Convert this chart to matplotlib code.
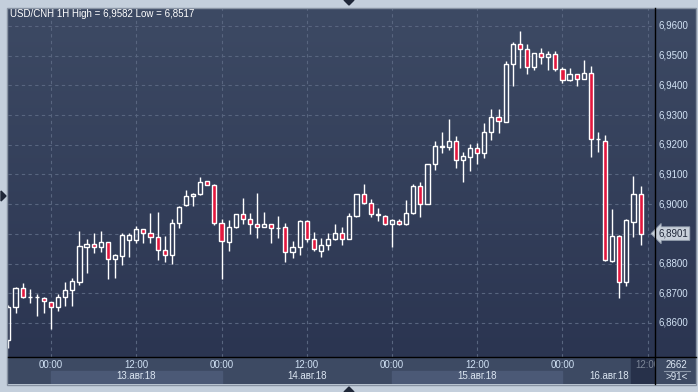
import numpy as np
import matplotlib
matplotlib.use("Agg")
import matplotlib.pyplot as plt
from matplotlib.colors import LinearSegmentedColormap
from matplotlib.patches import Polygon, Rectangle

plt.rcParams['font.family'] = ['Liberation Sans', 'DejaVu Sans']

# ---------------- data ----------------
title = "USD/CNH 1H High = 6,9582 Low = 6,8517"
# hours relative to 13.08.18 00:00
hours = list(range(-6, 84))
opens = [6.8543, 6.8655, 6.8717, 6.8687, 6.8687, 6.8683, 6.8670, 6.8655, 6.8687, 6.8711,
         6.8739, 6.8857, 6.8866, 6.8857, 6.8872, 6.8817, 6.8827, 6.8878, 6.8878, 6.8916,
         6.8902, 6.8889, 6.8845, 6.8828, 6.8938, 6.8996, 6.9028, 6.9033, 6.9078, 6.9065,
         6.8936, 6.8872, 6.8922, 6.8966, 6.8949, 6.8932, 6.8924, 6.8933, 6.8921, 6.8922,
         6.8839, 6.8855, 6.8943, 6.8882, 6.8843, 6.8862, 6.8882, 6.8902, 6.8884, 6.8959,
         6.9033, 6.9003, 6.8966, 6.8961, 6.8932, 6.8945, 6.8932, 6.8969, 6.9061, 6.9000,
         6.9135, 6.9196, 6.9193, 6.9212, 6.9149, 6.9159, 6.9188, 6.9171, 6.9242, 6.9295,
         6.9278, 6.9471, 6.9538, 6.9522, 6.9463, 6.9508, 6.9495, 6.9505, 6.9456, 6.9418,
         6.9437, 6.9421, 6.9441, 6.9219, 6.9214, 6.8810, 6.8894, 6.8739, 6.8941, 6.9034]
highs = [6.8660, 6.8722, 6.8734, 6.8713, 6.8698, 6.8689, 6.8671, 6.8697, 6.8739, 6.8753,
         6.8910, 6.8882, 6.8904, 6.8910, 6.8873, 6.8832, 6.8904, 6.8904, 6.8927, 6.8918,
         6.8969, 6.8974, 6.8893, 6.8949, 6.8993, 6.9048, 6.9039, 6.9093, 6.9079, 6.9068,
         6.8949, 6.8947, 6.8968, 6.9021, 6.8971, 6.9039, 6.8974, 6.8935, 6.8960, 6.8936,
         6.8875, 6.8947, 6.8947, 6.8906, 6.8886, 6.8904, 6.8933, 6.8922, 6.8971, 6.9035,
         6.9068, 6.9019, 6.8987, 6.8962, 6.8949, 6.8949, 6.9014, 6.9068, 6.9076, 6.9136,
         6.9213, 6.9243, 6.9287, 6.9230, 6.9176, 6.9203, 6.9205, 6.9272, 6.9321, 6.9321,
         6.9481, 6.9546, 6.9582, 6.9539, 6.9510, 6.9525, 6.9516, 6.9516, 6.9463, 6.9458,
         6.9438, 6.9486, 6.9465, 6.9242, 6.9233, 6.8983, 6.8895, 6.8950, 6.9095, 6.9061]
lows = [6.8517, 6.8633, 6.8685, 6.8668, 6.8624, 6.8635, 6.8581, 6.8641, 6.8657, 6.8657,
        6.8728, 6.8769, 6.8837, 6.8840, 6.8748, 6.8753, 6.8796, 6.8823, 6.8870, 6.8870,
        6.8870, 6.8811, 6.8805, 6.8800, 6.8921, 6.8994, 6.8994, 6.9031, 6.9064, 6.8930,
        6.8747, 6.8843, 6.8920, 6.8933, 6.8900, 6.8885, 6.8922, 6.8870, 6.8887, 6.8806,
        6.8818, 6.8829, 6.8874, 6.8842, 6.8823, 6.8846, 6.8880, 6.8862, 6.8882, 6.8958,
        6.9001, 6.8958, 6.8944, 6.8929, 6.8857, 6.8929, 6.8930, 6.8968, 6.8958, 6.8999,
        6.9115, 6.9171, 6.9182, 6.9123, 6.9076, 6.9113, 6.9136, 6.9157, 6.9216, 6.9241,
        6.9277, 6.9399, 6.9460, 6.9438, 6.9452, 6.9472, 6.9452, 6.9450, 6.9409, 6.9416,
        6.9399, 6.9420, 6.9160, 6.9177, 6.8810, 6.8806, 6.8685, 6.8726, 6.8891, 6.8863]
closes = [6.8655, 6.8717, 6.8687, 6.8688, 6.8686, 6.8673, 6.8655, 6.8687, 6.8711, 6.8741,
          6.8859, 6.8866, 6.8857, 6.8872, 6.8817, 6.8828, 6.8896, 6.8895, 6.8916, 6.8902,
          6.8889, 6.8845, 6.8828, 6.8936, 6.8992, 6.9028, 6.9033, 6.9076, 6.9065, 6.8936,
          6.8875, 6.8922, 6.8966, 6.8949, 6.8932, 6.8922, 6.8933, 6.8919, 6.8920, 6.8839,
          6.8855, 6.8943, 6.8882, 6.8848, 6.8862, 6.8882, 6.8902, 6.8882, 6.8959, 6.9033,
          6.9003, 6.8966, 6.8965, 6.8932, 6.8947, 6.8932, 6.8969, 6.9062, 6.9000, 6.9135,
          6.9196, 6.9193, 6.9213, 6.9149, 6.9162, 6.9188, 6.9171, 6.9242, 6.9295, 6.9280,
          6.9471, 6.9538, 6.9522, 6.9463, 6.9508, 6.9495, 6.9505, 6.9456, 6.9418, 6.9437,
          6.9421, 6.9441, 6.9219, 6.9218, 6.8812, 6.8894, 6.8739, 6.8947, 6.9034, 6.8901]
last_price = 6.8901

price_ticks = [6.86, 6.87, 6.88, 6.89, 6.90, 6.91, 6.92, 6.93, 6.94, 6.95, 6.96]
time_tick_hours = [0, 12, 24, 36, 48, 60, 72, 84]
time_tick_labels = ["00:00", "12:00", "00:00", "12:00", "00:00", "12:00", "00:00", "12:00"]
date_labels = ["13.авг.18", "14.авг.18", "15.авг.18", "16.авг.18"]
date_start_hours = [0, 24, 48, 72]
bar_count_text = "2662"
zoom_text = ">91<"

# ---------------- layout helpers ----------------
W, H = 698, 392
def fx(px): return px / W
def fy(py): return 1 - py / H

fig = plt.figure(figsize=(W / 100, H / 100), dpi=100, facecolor='#c4cfdc')

XMIN, XMAX = -6.06, 85.03
YMIN, YMAX = 6.84855, 6.96606

top_col, bot_col = '#3d4a64', '#2b3551'
grad = LinearSegmentedColormap.from_list('g', [bot_col, top_col])

# main plot
ax = fig.add_axes([fx(8), fy(357), fx(655) - fx(8), fy(8) - fy(357)])
ax.set_xlim(XMIN, XMAX)
ax.set_ylim(YMIN, YMAX)
ax.imshow(np.linspace(0, 1, 256).reshape(-1, 1)[::-1], cmap=grad, aspect='auto',
          extent=[XMIN, XMAX, YMIN, YMAX], zorder=0)
for s in ax.spines.values():
    s.set_visible(False)
ax.set_xticks([]); ax.set_yticks([])

grid_col = '#58657f'
for p in price_ticks:
    ax.axhline(p, color=grid_col, lw=0.8, ls=(0, (3, 3)), zorder=1)
for h in time_tick_hours:
    ax.axvline(h, color=grid_col, lw=0.8, ls=(0, (3, 3)), zorder=1)

red = '#e3173e'
bw = 0.58
for h, o, hi, lo, c in zip(hours, opens, highs, lows, closes):
    top, bot = max(o, c), min(o, c)
    ax.vlines(h, top, hi, color='white', lw=1.0, zorder=2)
    ax.vlines(h, lo, bot, color='white', lw=1.0, zorder=2)
    up = c >= o
    ax.bar(h, max(top - bot, 0.00001), bottom=bot, width=bw,
           facecolor='none' if up else red, edgecolor='white', linewidth=1.0, zorder=3)

# right price panel
axr = fig.add_axes([fx(655), fy(357), fx(696) - fx(655), fy(8) - fy(357)])
axr.set_xlim(0, 1); axr.set_ylim(YMIN, YMAX)
axr.imshow(np.linspace(0, 1, 256).reshape(-1, 1)[::-1], cmap=grad, aspect='auto',
           extent=[0, 1, YMIN, YMAX], zorder=0)
axr.set_xticks([]); axr.set_yticks([])
for s in axr.spines.values():
    s.set_visible(False)
for p in price_ticks:
    if abs(p - last_price) < 0.004:
        continue
    axr.text(0.08, p, f"{p:.4f}".replace('.', ','), color='#d2e2f4', fontsize=7,
             va='center', ha='left', zorder=2)
axr.text(0.08, last_price, f"{last_price:.4f}".replace('.', ','), color='#1e2638', fontsize=7,
         va='center', ha='left', zorder=5,
         bbox=dict(boxstyle='larrow,pad=0.18', fc='#c8d0da', ec='#9aa5b4', lw=0.6))

# bottom time strip
strip_col = '#3d4a63'
axb = fig.add_axes([fx(8), fy(384), fx(655) - fx(8), fy(357) - fy(384)])
axb.set_xlim(XMIN, XMAX); axb.set_ylim(0, 1)
axb.set_facecolor(strip_col)
axb.set_xticks([]); axb.set_yticks([])
for s in axb.spines.values():
    s.set_visible(False)
for i, d0 in enumerate(date_start_hours):
    if i % 2 == 0 and i < 3:
        axb.add_patch(Rectangle((d0, 0), 24, 0.48, color='#4b5976', zorder=1))
box_start = 81.6
axb.add_patch(Rectangle((box_start, 0), XMAX - box_start, 1, color='#27314a', zorder=2))
for h, lab in zip(time_tick_hours, time_tick_labels):
    col = '#7b8597' if h > box_start else '#cfe0f3'
    axb.text(h, 0.70, lab, color=col, fontsize=7, ha='center', va='center', zorder=3, clip_on=True)
for d0, lab in zip(date_start_hours, date_labels):
    if d0 + 24 > box_start:
        axb.text(box_start - 0.3, 0.28, lab, color='#dce6f2', fontsize=7, ha='right', va='center', zorder=3)
    else:
        axb.text(d0 + 12, 0.28, lab, color='#dce6f2', fontsize=7, ha='center', va='center', zorder=3)

# bottom right info box
axi = fig.add_axes([fx(655), fy(384), fx(696) - fx(655), fy(357) - fy(384)])
axi.set_xlim(0, 1); axi.set_ylim(0, 1)
axi.set_facecolor(strip_col)
axi.set_xticks([]); axi.set_yticks([])
for s in axi.spines.values():
    s.set_visible(False)
axi.text(0.52, 0.70, bar_count_text, color='#dce6f2', fontsize=7, ha='center', va='center')
axi.plot([0.22, 0.85], [0.48, 0.48], color='#8a96a8', lw=0.8)
axi.text(0.52, 0.27, zoom_text, color='#dce6f2', fontsize=7, ha='center', va='center')

# frame lines
fig.add_artist(plt.Line2D([fx(655), fx(655)], [fy(384), fy(8)], color='black', lw=1.0))
fig.add_artist(plt.Line2D([fx(8), fx(696)], [fy(357), fy(357)], color='black', lw=1.0))
fig.add_artist(Rectangle((fx(7.5), fy(384.5)), fx(696.5) - fx(7.5), fy(7.5) - fy(384.5),
                         fill=False, ec='#8893a3', lw=1.0, transform=fig.transFigure))

# title
fig.text(fx(10), fy(14), title, color='white', fontsize=7, ha='left', va='center')

# UI markers (triangles)
tri_col = '#1f2738'
fig.add_artist(Polygon([(fx(344), fy(0)), (fx(354), fy(0)), (fx(349), fy(5))],
                       closed=True, color=tri_col, transform=fig.transFigure))
fig.add_artist(Polygon([(fx(344), fy(392)), (fx(354), fy(392)), (fx(349), fy(387))],
                       closed=True, color=tri_col, transform=fig.transFigure))
fig.add_artist(Polygon([(fx(1), fy(191)), (fx(1), fy(201)), (fx(6), fy(196))],
                       closed=True, color=tri_col, transform=fig.transFigure))

fig.savefig('out.png', dpi=100, facecolor=fig.get_facecolor())
